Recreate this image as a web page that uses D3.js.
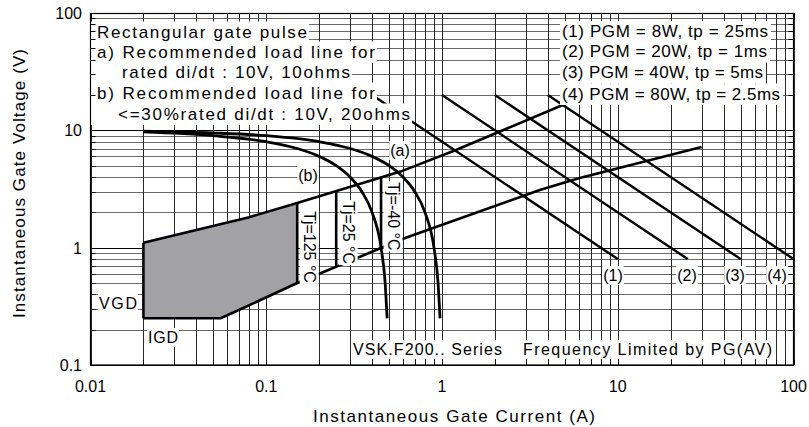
<!DOCTYPE html>
<html>
<head>
<meta charset="utf-8">
<script src="https://cdn.jsdelivr.net/npm/d3@7"></script>
<style>
  body { margin: 0; background: #fff; }
  text { font-family: Arial, "Liberation Sans", sans-serif; fill: #000; }
</style>
</head>
<body>
<div id="chart"></div>
<script>
// axis ticks
const xTicks = [0.01, 0.1, 1, 10, 100];
const xTickLabels = ["0.01", "0.1", "1", "10", "100"];
const yTicks = [0.1, 1, 10, 100];
const yTickLabels = ["0.1", "1", "10", "100"];

// load lines, [current A, voltage V]
const loadA = [[0.02, 9.85], [0.05, 9.5], [0.1, 9.0], [0.2, 8.0], [0.3, 7.0], [0.4, 6.0], [0.5, 5.0],
  [0.6, 4.0], [0.7, 3.0], [0.8, 2.0], [0.9, 1.0], [0.95, 0.5], [0.975, 0.25]];
const loadB = [[0.02, 9.7], [0.05, 9.0], [0.1, 8.0], [0.15, 7.0], [0.2, 6.0], [0.25, 5.0], [0.3, 4.0],
  [0.35, 3.0], [0.4, 2.0], [0.45, 1.0], [0.475, 0.5], [0.4875, 0.25]];

// gate trigger area boundaries
const upperBound = [[0.02, 1.1], [0.08, 1.82], [0.15, 2.4], [0.58, 4.45], [1.2, 6.8], [4.9, 16.5]];
const lowerBound = [[0.02, 0.25], [0.055, 0.25], [0.065, 0.28], [0.15, 0.5], [0.6, 1.19], [3.6, 3.1], [6, 3.9], [30, 7.2]];

// junction temperature limits
const tjCurrent = [0.15, 0.25, 0.45];
const tjLow = [0.5, 0.7, 1.0];
const tjHigh = [2.4, 3.02, 4.0];
const tjLabels = ["Tj=125 °C", "Tj=25 °C", "Tj=-40 °C"];

// peak gate power lines
const pgmNames = ["(1)", "(2)", "(3)", "(4)"];
const pgmStart = [[0.4, 20], [1, 20], [2, 20], [4, 20]];
const pgmEnd = [[10, 0.8], [25, 0.8], [50, 0.8], [100, 0.8]];

const noteLines = ["Rectangular gate pulse", "a) Recommended load line for", "rated di/dt : 10V, 10ohms",
  "b) Recommended load line for", "<=30%rated di/dt : 10V, 20ohms"];
const pgmLegend = ["(1) PGM = 8W, tp = 25ms", "(2) PGM = 20W, tp = 1ms",
  "(3) PGM = 40W, tp = 5ms", "(4) PGM = 80W, tp = 2.5ms"];

// canvas
const width = 809, height = 427;
const svg = d3.select("#chart").append("svg")
  .attr("width", width)
  .attr("height", height);

const x = d3.scaleLog().domain([0.01, 100]).range([90.5, 793.5]);
const y = d3.scaleLog().domain([0.1, 100]).range([365, 13]);
const px = v => Math.round(x(v)) + 0.5;
const py = v => Math.round(y(v)) + 0.5;

// grid
const grid = svg.append("g");
grid.selectAll("line.h").data(y.ticks()).enter().append("line")
  .attr("x1", x(0.01)).attr("x2", x(100))
  .attr("y1", py).attr("y2", py)
  .attr("stroke", d => Math.abs(Math.log10(d) % 1) < 1e-9 ? "#000" : "#6a6a6a")
  .attr("stroke-width", 1);
grid.selectAll("line.v").data(x.ticks()).enter().append("line")
  .attr("y1", y(0.1)).attr("y2", y(100))
  .attr("x1", px).attr("x2", px)
  .attr("stroke", "#2a2a2a")
  .attr("stroke-width", 1);

// shaded gate trigger area
const lineGen = d3.line().x(d => x(d[0])).y(d => y(d[1]));
const area = upperBound.filter(d => d[0] <= 0.15)
  .concat(lowerBound.filter(d => d[0] <= 0.15).reverse());
svg.append("path")
  .attr("d", lineGen(area) + "Z")
  .attr("fill", "#a2a2a6");

// boundary lines
const thick = svg.append("g").attr("fill", "none").attr("stroke", "#000").attr("stroke-width", 2.6);
thick.append("path").attr("d", lineGen(upperBound));
thick.append("path").attr("d", lineGen(lowerBound));
thick.append("path").attr("d", lineGen([upperBound[0], lowerBound[0]]));
tjCurrent.forEach((c, i) => {
  thick.append("path").attr("d", lineGen([[c, tjLow[i]], [c, tjHigh[i]]]));
});

// load lines
const curveGen = d3.line().x(d => x(d[0])).y(d => y(d[1])).curve(d3.curveMonotoneX);
thick.append("path").attr("d", curveGen(loadA)).attr("stroke-width", 2.8);
thick.append("path").attr("d", curveGen(loadB)).attr("stroke-width", 2.8);

// power lines
pgmStart.forEach((s, i) => {
  thick.append("path").attr("d", lineGen([s, pgmEnd[i]])).attr("stroke-width", 2.4);
});

// text with white background
function boxed(g, str, tx, ty, size, len, pad) {
  const t = g.append("text").attr("x", tx).attr("y", ty)
    .attr("font-size", size).text(str);
  if (len) t.attr("textLength", len).attr("lengthAdjust", "spacing");
  const b = t.node().getBBox();
  const p = pad == null ? 1 : pad;
  g.insert("rect", () => t.node())
    .attr("x", b.x - p).attr("y", b.y - p)
    .attr("width", b.width + 2 * p).attr("height", b.height + 2 * p)
    .attr("fill", "#fff");
  return t;
}

const notes = svg.append("g");
const noteX = [97, 97, 122, 97, 118];
const noteLen = [210, 278, 228, 278, 292];
const noteBase = [37.5, 57.5, 77.5, 98.5, 119.5];
noteLines.forEach((s, i) => {
  notes.append("rect")
    .attr("x", 91).attr("y", noteBase[i] - 16)
    .attr("width", noteX[i] + noteLen[i] + 2 - 91).attr("height", 21.5)
    .attr("fill", "#fff");
});
noteLines.forEach((s, i) => {
  notes.append("text").attr("x", noteX[i]).attr("y", noteBase[i])
    .attr("font-size", 17).attr("textLength", noteLen[i]).attr("lengthAdjust", "spacing")
    .text(s);
});

const legend = svg.append("g");
const legLen = [206, 205, 201, 218];
const legBase = [37, 57, 78, 99.5];
pgmLegend.forEach((s, i) => {
  legend.append("rect")
    .attr("x", 560).attr("y", legBase[i] - 16)
    .attr("width", legLen[i] + 5).attr("height", 21.5)
    .attr("fill", "#fff");
});
pgmLegend.forEach((s, i) => {
  legend.append("text").attr("x", 562).attr("y", legBase[i])
    .attr("font-size", 17).attr("textLength", legLen[i]).attr("lengthAdjust", "spacing")
    .text(s);
});

// curve labels
const labels = svg.append("g").attr("text-anchor", "middle");
boxed(labels, "(a)", 400, 156, 16, null, 1);
boxed(labels, "(b)", 308, 181, 16, null, 1);
const pgmLabelX = [613, 687, 735, 777];
pgmNames.forEach((s, i) => boxed(labels, s, pgmLabelX[i], 281, 16, null, 1));
boxed(labels, "VGD", 118, 309, 16, 38, 1);
boxed(labels, "IGD", 163, 343, 16, 30, 1);

const series = svg.append("g");
boxed(series, "VSK.F200..  Series", 353, 355, 16, 149, 1);
boxed(series, "Frequency Limited by PG(AV)", 523, 355, 16, 249, 1);

// Tj labels, rotated
tjCurrent.forEach((c, i) => {
  const g = svg.append("g")
    .attr("transform", `translate(${x(c) + 12.5},${(y(tjLow[i]) + y(tjHigh[i])) / 2 + 4}) rotate(90)`)
    .attr("text-anchor", "middle");
  boxed(g, tjLabels[i], 0, 6, 16, null, 1);
});

// inward ticks
const ticks = svg.append("g").attr("stroke", "#000").attr("stroke-width", 1);
x.ticks().forEach(v => {
  ticks.append("line").attr("x1", px(v)).attr("x2", px(v)).attr("y1", 13).attr("y2", 18);
  ticks.append("line").attr("x1", px(v)).attr("x2", px(v)).attr("y1", 360).attr("y2", 365);
});
y.ticks().forEach(v => {
  ticks.append("line").attr("y1", py(v)).attr("y2", py(v)).attr("x1", 90.5).attr("x2", 95.5);
  ticks.append("line").attr("y1", py(v)).attr("y2", py(v)).attr("x1", 788.5).attr("x2", 793.5);
});

// frame
svg.append("rect")
  .attr("x", 90.5).attr("y", 13.5)
  .attr("width", 703).attr("height", 351.5)
  .attr("fill", "none").attr("stroke", "#000").attr("stroke-width", 1.2);

// tick labels
svg.append("g").attr("text-anchor", "middle")
  .selectAll("text").data(xTicks).enter().append("text")
  .attr("x", d => x(d)).attr("y", 392)
  .attr("font-size", 16)
  .text((d, i) => xTickLabels[i]);
svg.append("g").attr("text-anchor", "end")
  .selectAll("text").data(yTicks).enter().append("text")
  .attr("x", 82).attr("y", d => y(d) + 6)
  .attr("font-size", 16)
  .text((d, i) => yTickLabels[i]);

// axis titles
svg.append("text")
  .attr("x", 454).attr("y", 422)
  .attr("text-anchor", "middle").attr("font-size", 17)
  .attr("textLength", 282).attr("lengthAdjust", "spacing")
  .text("Instantaneous Gate Current (A)");
svg.append("text")
  .attr("transform", "translate(25,183.5) rotate(-90)")
  .attr("text-anchor", "middle").attr("font-size", 17)
  .attr("textLength", 269).attr("lengthAdjust", "spacing")
  .text("Instantaneous Gate Voltage (V)");
</script>
</body>
</html>
